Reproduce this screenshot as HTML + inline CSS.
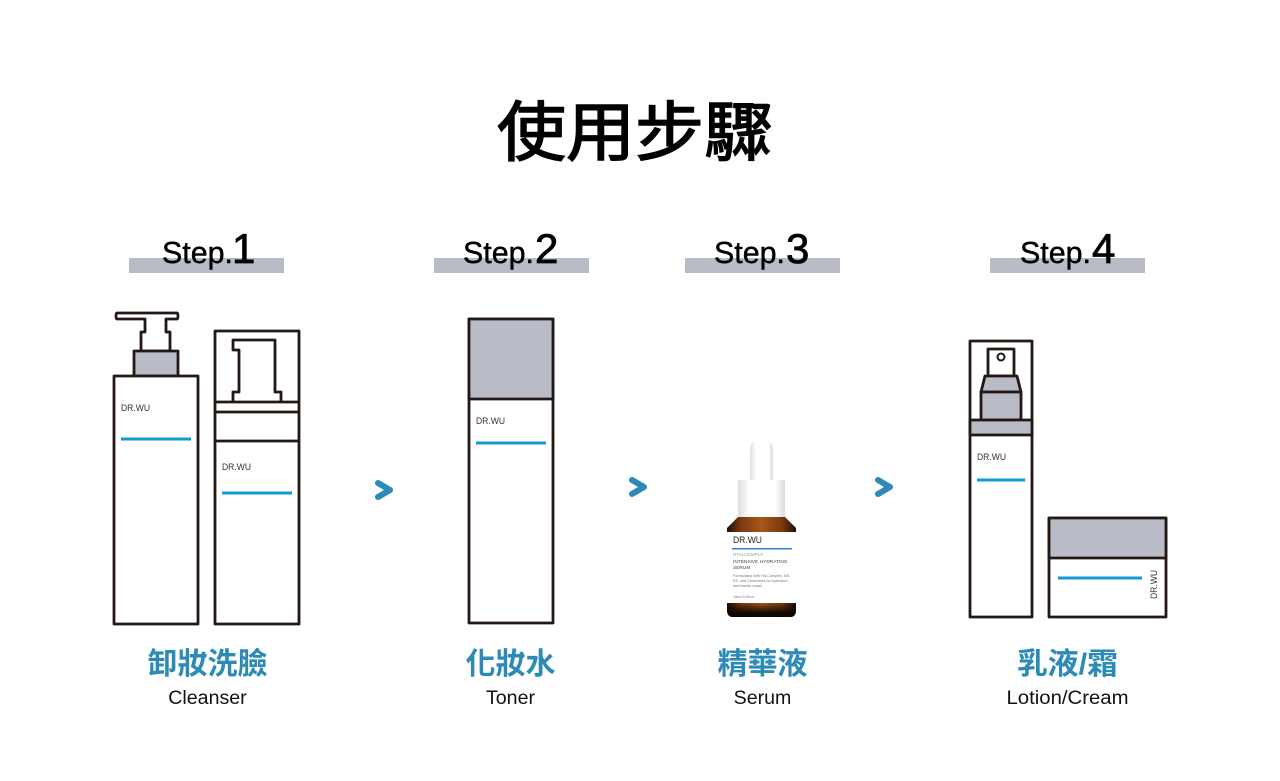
<!DOCTYPE html>
<html lang="zh-Hant"><head><meta charset="utf-8"><title>使用步驟</title>
<style>
html,body{margin:0;padding:0;background:#fff}
svg{display:block}
.t{font-family:"Liberation Sans","Noto Sans CJK TC",sans-serif}
.s{font-size:30.4px;fill:#000;stroke:#000;stroke-width:.45}
.n{font-size:42px;fill:#000;stroke:#000;stroke-width:.8}
.c{font-size:30px;font-weight:700;fill:#2c8ab6;text-anchor:middle}
.e{font-size:19.600px;fill:#111;text-anchor:middle}
.b{font-size:9px;fill:#333}
.l{fill:#fff;stroke:#231815;stroke-width:2.800;stroke-linejoin:round}
.g{fill:#b9bcc6;stroke:#231815;stroke-width:2.800;stroke-linejoin:round}
.w{fill:none;stroke:#231815;stroke-width:2.800;stroke-linejoin:round}
.u{stroke:#119ad6;stroke-width:3}
.a{fill:none;stroke:#2c8ab6;stroke-width:6;stroke-linejoin:round;stroke-linecap:round}
</style></head><body>
<svg width="1280" height="781" viewBox="0 0 1280 781" xmlns="http://www.w3.org/2000/svg">
<defs>
<linearGradient id="wh" x1="0" x2="1" y1="0" y2="0"><stop offset="0" stop-color="#dedede"/><stop offset=".25" stop-color="#fff"/><stop offset=".8" stop-color="#fff"/><stop offset="1" stop-color="#d8d8d8"/></linearGradient>
<linearGradient id="am" x1="0" x2="1" y1="0" y2="0"><stop offset="0" stop-color="#1a100a"/><stop offset=".2" stop-color="#7a3a10"/><stop offset=".5" stop-color="#a8561a"/><stop offset=".8" stop-color="#7a3a10"/><stop offset="1" stop-color="#1a100a"/></linearGradient>
<linearGradient id="bt" x1="0" x2="0" y1="0" y2="1"><stop offset="0" stop-color="#000" stop-opacity="0"/><stop offset=".7" stop-color="#0c0603" stop-opacity=".95"/><stop offset="1" stop-color="#0c0603"/></linearGradient>
</defs>
<rect width="1280" height="781" fill="#fff"/>
<text class="t" x="635" y="155" font-size="65" text-anchor="middle" textLength="276" lengthAdjust="spacingAndGlyphs" fill="#000" stroke="#000" stroke-width="1.500">使用步驟</text>

<rect x="129" y="258" width="155" height="15" fill="#b9bcc6"/>
<rect x="434" y="258" width="155" height="15" fill="#b9bcc6"/>
<rect x="685" y="258" width="155" height="15" fill="#b9bcc6"/>
<rect x="990" y="258" width="155" height="15" fill="#b9bcc6"/>

<text class="t s" x="162" y="263">Step.</text><text class="t n" x="232" y="263">1</text>
<text class="t s" x="463" y="263">Step.</text><text class="t n" x="535" y="263">2</text>
<text class="t s" x="714" y="263">Step.</text><text class="t n" x="786" y="263">3</text>
<text class="t s" x="1020" y="263">Step.</text><text class="t n" x="1092" y="263">4</text>

<!-- pump bottle -->
<path class="l" d="M117 313H177Q178 313 178 316Q178 319 177 319H166V332H170V351H141V332H145V319H117Q116 319 116 316Q116 313 117 313Z"/>
<rect class="g" x="134" y="351" width="44" height="25"/>
<rect class="l" x="114" y="376" width="84" height="248"/>
<text class="t b" x="121" y="411" textLength="29" lengthAdjust="spacingAndGlyphs">DR.WU</text>
<line class="u" x1="121" y1="439" x2="191" y2="439"/>

<!-- foam bottle -->
<rect class="l" x="215" y="331" width="84" height="293"/>
<path class="w" d="M233 402V392H239V350H233V340H275V392H281V402"/>
<path class="w" d="M215 402H299M215 412H299M215 441H299"/>
<text class="t b" x="222" y="470" textLength="29" lengthAdjust="spacingAndGlyphs">DR.WU</text>
<line class="u" x1="222" y1="493" x2="292" y2="493"/>

<!-- toner -->
<rect class="l" x="469" y="319" width="84" height="304"/>
<rect class="g" x="469" y="319" width="84" height="80"/>
<text class="t b" x="476" y="424" textLength="29" lengthAdjust="spacingAndGlyphs">DR.WU</text>
<line class="u" x1="476" y1="443" x2="546" y2="443"/>

<!-- arrows -->
<path class="a" d="M378 483L390 490L378 497"/>
<path class="a" d="M632 480L644 487L632 494"/>
<path class="a" d="M878 480L890 487L878 494"/>

<!-- serum -->
<path d="M750 481V450Q750 439 761.500 439Q773 439 773 450V481Z" fill="url(#wh)"/>
<rect x="738" y="480" width="47" height="37" fill="url(#wh)"/>
<path d="M738 517H785L796 528V610Q796 617 790 617H733Q727 617 727 610V528Z" fill="url(#am)"/>
<rect x="727" y="532" width="69" height="71" fill="#fff"/>
<path d="M727 603H796V610Q796 617 790 617H733Q727 617 727 610Z" fill="url(#bt)"/>
<text class="t" x="733" y="543" font-size="9.500" textLength="29" lengthAdjust="spacingAndGlyphs" fill="#222">DR.WU</text>
<rect x="732" y="548" width="60" height="1.500" fill="#2f7fd0"/>
<text class="t" x="733" y="556" font-size="4.500" fill="#999">HYALUCMPLX</text>
<text class="t" x="733" y="563" font-size="4.800" fill="#444">INTENSIVE HYDRATING</text>
<text class="t" x="733" y="569" font-size="4.800" fill="#444">SERUM</text>
<text class="t" x="733" y="577" font-size="3.800" fill="#777">Formulated with HA Complex, B5,</text>
<text class="t" x="733" y="582" font-size="3.800" fill="#777">E8, and Ceramides for hydration</text>
<text class="t" x="733" y="587" font-size="3.800" fill="#777">and barrier repair.</text>
<text class="t" x="733" y="598" font-size="3.500" fill="#777">15mL/0.5fl.oz</text>

<!-- lotion -->
<rect class="l" x="970" y="341" width="62" height="276"/>
<rect x="988" y="349" width="26" height="27" class="l"/>
<circle cx="1001" cy="357" r="3.500" fill="#fff" stroke="#231815" stroke-width="2"/>
<path class="g" d="M985 376H1017L1021 392H981Z"/>
<rect class="g" x="981" y="392" width="40" height="28"/>
<rect class="g" x="970" y="420" width="62" height="15"/>
<text class="t b" x="977" y="460" textLength="29" lengthAdjust="spacingAndGlyphs">DR.WU</text>
<line class="u" x1="977" y1="480" x2="1025" y2="480"/>

<!-- jar -->
<rect class="l" x="1049" y="518" width="117" height="99"/>
<rect class="g" x="1049" y="518" width="117" height="40"/>
<line class="u" x1="1058" y1="578" x2="1142" y2="578"/>
<text class="t b" transform="translate(1157 599) rotate(-90)" textLength="29" lengthAdjust="spacingAndGlyphs">DR.WU</text>

<text class="t c" x="207.500" y="674">卸妝洗臉</text>
<text class="t c" x="510.500" y="674">化妝水</text>
<text class="t c" x="762.500" y="674">精華液</text>
<text class="t c" x="1067.500" y="674" textLength="101" lengthAdjust="spacingAndGlyphs">乳液/霜</text>

<text class="t e" x="207.500" y="704">Cleanser</text>
<text class="t e" x="510.500" y="704">Toner</text>
<text class="t e" x="762.500" y="704">Serum</text>
<text class="t e" x="1067.500" y="704" textLength="122" lengthAdjust="spacingAndGlyphs">Lotion/Cream</text>
</svg>
</body></html>
